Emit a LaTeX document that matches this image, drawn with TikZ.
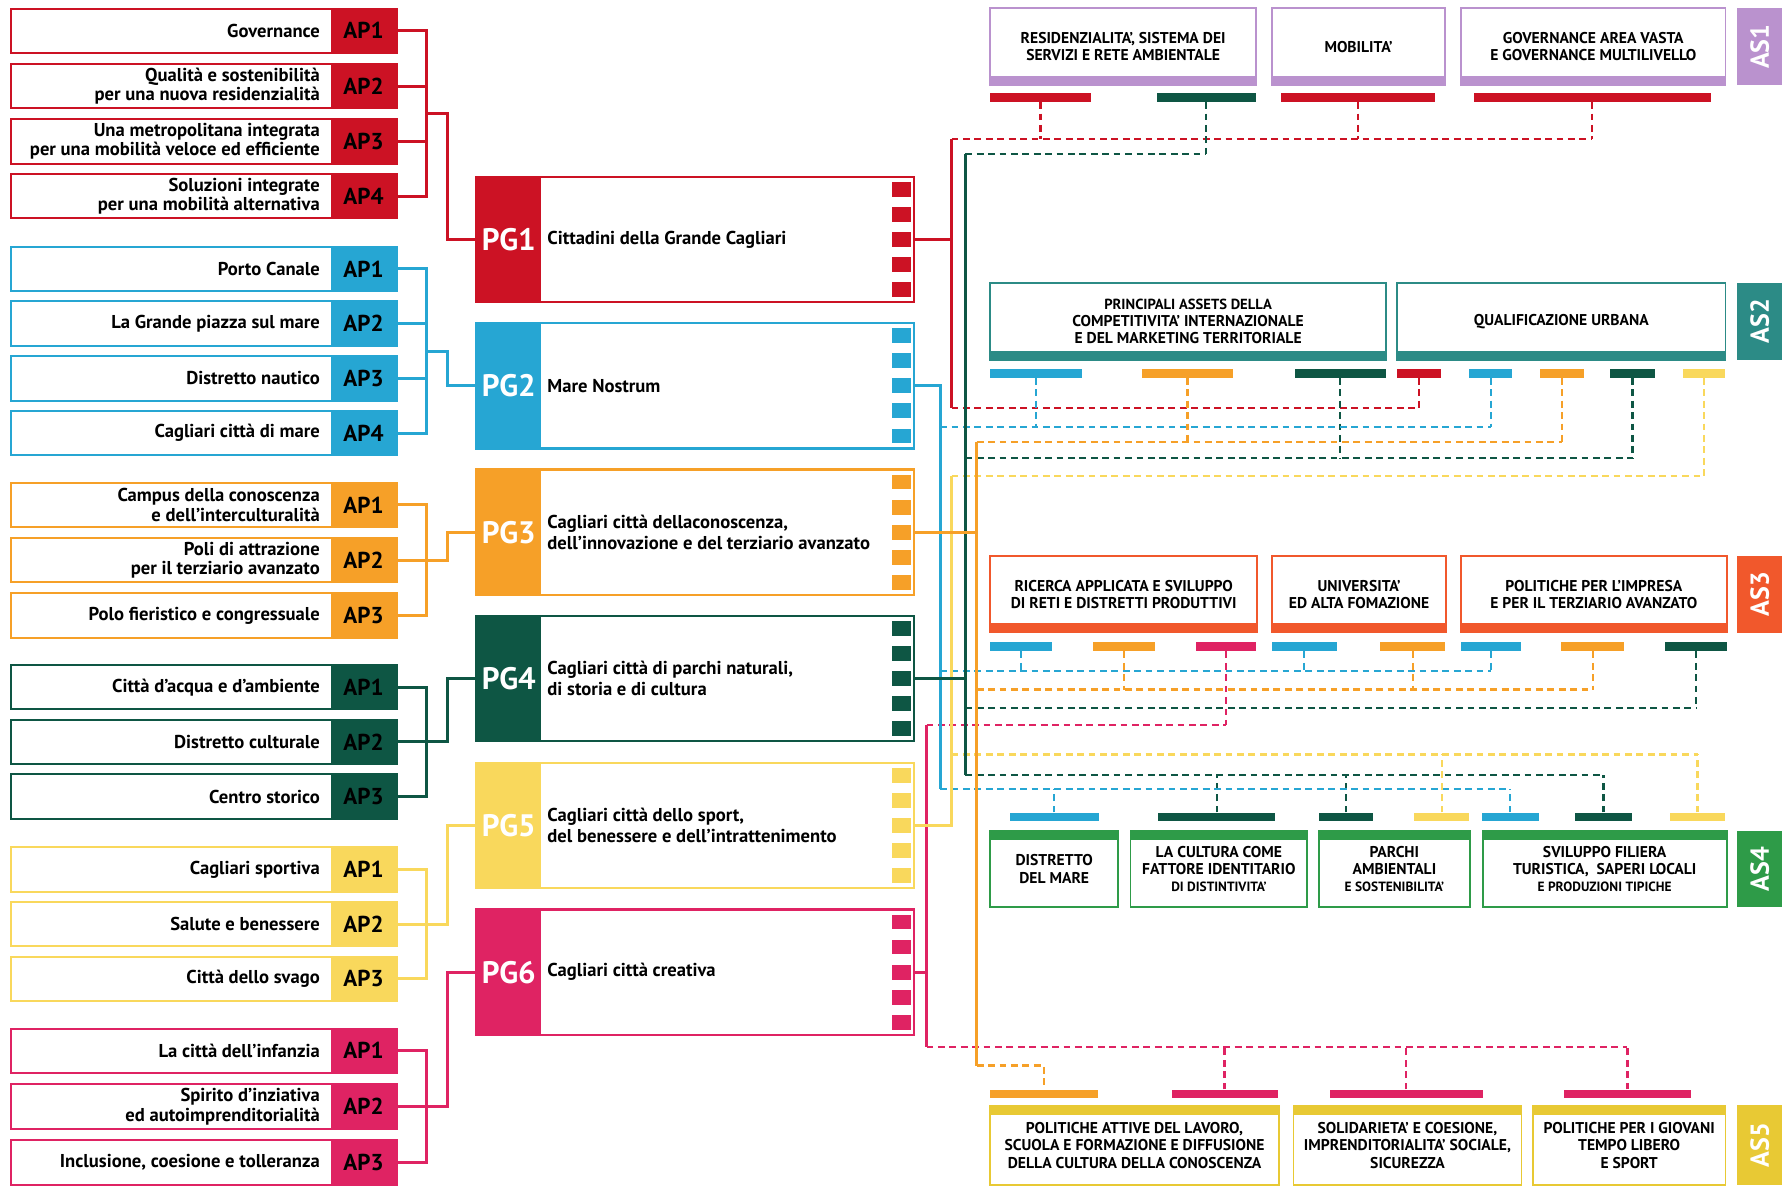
\documentclass[tikz,border=0pt]{standalone}
\usepackage{fontspec}
\setmainfont{PT Sans}
\usetikzlibrary{calc}
\definecolor{cRed}{RGB}{204,18,36}
\definecolor{cBlue}{RGB}{38,166,211}
\definecolor{cOrange}{RGB}{246,160,40}
\definecolor{cDkGreen}{RGB}{14,86,68}
\definecolor{cYellow}{RGB}{249,216,92}
\definecolor{cPink}{RGB}{223,35,99}
\definecolor{cASa}{RGB}{186,146,206}
\definecolor{cASb}{RGB}{44,139,134}
\definecolor{cASc}{RGB}{241,88,44}
\definecolor{cASd}{RGB}{46,155,72}
\definecolor{cASe}{RGB}{232,201,52}
\newcommand\APbox[5]{%
  \node[apframe=#3] (#1) at (179,#2) {};
  \node[aptag=#3] (#1t) at (319,#2) {#5};
  \node[aptext] (#1x) at (281,#2) {#4};}
\newcommand\PGbox[5]{%
  \node[pgframe=#3] (#1) at (610,#2) {};
  \node[pgtag=#3] (#1t) at (446.5,#2) {#4};
  \node[pgtext] (#1x) at (480,#2) {#5};
  \foreach \k [count=\i] in {-2,-1,0,1,2} \node[pgsq=#3] (#1s\i) at (791,{#2+22*\k}) {};}
\newcommand\bbar[5]{\node[bar=#5, minimum width={(#3-#2)*0.02cm}] (#1) at ({(#2+#3)/2},#4) {};}
\newcommand\ASbox[8]{%
  \draw[draw=#6, line width=0.9pt, fill=white] (#2,#4) rectangle (#3,#5);
  \if b#7\fill[#6] (#2,{#5-8}) rectangle (#3,#5);\else\fill[#6] (#2,#4) rectangle (#3,{#4+8});\fi
  \node[astext] (#1) at ({(#2+#3)/2},{(#4+#5)/2}) {#8};}
\newcommand\ASlab[5]{%
  \fill[#4] (1524,#2) rectangle (1564,#3);
  \node[aslabtext] (#1) at (1544,{(#2+#3)/2}) {#5};}
\newcommand\smallas{\fontsize{6.7}{8.6}\selectfont}
\begin{document}
\begin{tikzpicture}[x=0.02cm,y=-0.02cm,
  apframe/.style={draw=#1, line width=1pt, fill=white, minimum width=6.76cm, minimum height=0.78cm, inner sep=0pt},
  aptag/.style={fill=#1, minimum width=1.16cm, minimum height=0.78cm, inner sep=0pt, font=\fontsize{11.5}{13}\selectfont\bfseries},
  aptext/.style={anchor=east, align=right, inner sep=0pt, font=\fontsize{9.3}{9.6}\selectfont\bfseries},
  pgframe/.style={draw=#1, line width=1.1pt, fill=white, minimum width=7.68cm, minimum height=2.2cm, inner sep=0pt},
  pgtag/.style={fill=#1, text=white, minimum width=1.14cm, minimum height=2.2cm, inner sep=0pt, font=\fontsize{15.5}{17}\selectfont\bfseries},
  pgtext/.style={anchor=west, align=left, inner sep=0pt, font=\fontsize{9.3}{10.4}\selectfont\bfseries},
  pgsq/.style={fill=#1, minimum width=0.32cm, minimum height=0.26cm, inner sep=0pt},
  bus/.style={draw=#1, line width=1.5pt},
  dsh/.style={draw=#1, line width=1.1pt, dash pattern=on 3.4pt off 2.3pt},
  bar/.style={fill=#1, minimum height=0.15cm, inner sep=0pt},
  astext/.style={align=center, inner sep=0pt, font=\fontsize{7.8}{8.6}\selectfont\bfseries},
  aslabtext/.style={rotate=90, text=white, inner sep=0pt, font=\fontsize{13}{15}\selectfont\bfseries},
]
\path[use as bounding box, fill=white] (0,0) rectangle (1568,1043);

% ---------- AP boxes ----------
\APbox{r1}{27}{cRed}{Governance}{AP1}
\APbox{r2}{75.5}{cRed}{Qualità e sostenibilità\\per una nuova residenzialità}{AP2}
\APbox{r3}{124}{cRed}{Una metropolitana integrata\\per una mobilità veloce ed efficiente}{AP3}
\APbox{r4}{172}{cRed}{Soluzioni integrate\\per una mobilità alternativa}{AP4}
\APbox{b1}{236}{cBlue}{Porto Canale}{AP1}
\APbox{b2}{284}{cBlue}{La Grande piazza sul mare}{AP2}
\APbox{b3}{332}{cBlue}{Distretto nautico}{AP3}
\APbox{b4}{380}{cBlue}{Cagliari città di mare}{AP4}
\APbox{o1}{443}{cOrange}{Campus della conoscenza\\e dell’interculturalità}{AP1}
\APbox{o2}{491.5}{cOrange}{Poli di attrazione\\per il terziario avanzato}{AP2}
\APbox{o3}{540}{cOrange}{Polo fieristico e congressuale}{AP3}
\APbox{g1}{603}{cDkGreen}{Città d’acqua e d’ambiente}{AP1}
\APbox{g2}{651}{cDkGreen}{Distretto culturale}{AP2}
\APbox{g3}{699}{cDkGreen}{Centro storico}{AP3}
\APbox{y1}{763}{cYellow}{Cagliari sportiva}{AP1}
\APbox{y2}{811}{cYellow}{Salute e benessere}{AP2}
\APbox{y3}{859}{cYellow}{Città dello svago}{AP3}
\APbox{p1}{922}{cPink}{La città dell’infanzia}{AP1}
\APbox{p2}{971}{cPink}{Spirito d’inziativa\\ed autoimprenditorialità}{AP2}
\APbox{p3}{1020}{cPink}{Inclusione, coesione e tolleranza}{AP3}

% ---------- PG boxes ----------
\PGbox{pg1}{210}{cRed}{PG1}{Cittadini della Grande Cagliari}
\PGbox{pg2}{338.5}{cBlue}{PG2}{Mare Nostrum}
\PGbox{pg3}{467}{cOrange}{PG3}{Cagliari città dellaconoscenza,\\dell’innovazione e del terziario avanzato}
\PGbox{pg4}{595.5}{cDkGreen}{PG4}{Cagliari città di parchi naturali,\\di storia e di cultura}
\PGbox{pg5}{724.5}{cYellow}{PG5}{Cagliari città dello sport,\\del benessere e dell’intrattenimento}
\PGbox{pg6}{853}{cPink}{PG6}{Cagliari città creativa}

% ---------- brackets AP -> PG ----------
\draw[bus=cRed] (r1t.east) -- ++(26,0) |- (r4t.east);
\draw[bus=cRed] (r2t.east) -- ++(26,0);
\draw[bus=cRed] (r3t.east) -- ++(26,0);
\draw[bus=cRed] ($(r1t.east)!0.5!(r4t.east)+(26,0)$) -- ++(18,0) |- (pg1t.west);
\draw[bus=cBlue] (b1t.east) -- ++(26,0) |- (b4t.east);
\draw[bus=cBlue] (b2t.east) -- ++(26,0);
\draw[bus=cBlue] (b3t.east) -- ++(26,0);
\draw[bus=cBlue] ($(b1t.east)!0.5!(b4t.east)+(26,0)$) -- ++(18,0) |- (pg2t.west);
\draw[bus=cOrange] (o1t.east) -- ++(26,0) |- (o3t.east);
\draw[bus=cOrange] (o2t.east) -- ++(26,0);
\draw[bus=cOrange] ($(o1t.east)!0.5!(o3t.east)+(26,0)$) -- ++(18,0) |- (pg3t.west);
\draw[bus=cDkGreen] (g1t.east) -- ++(26,0) |- (g3t.east);
\draw[bus=cDkGreen] (g2t.east) -- ++(26,0);
\draw[bus=cDkGreen] ($(g1t.east)!0.5!(g3t.east)+(26,0)$) -- ++(18,0) |- (pg4t.west);
\draw[bus=cYellow] (y1t.east) -- ++(26,0) |- (y3t.east);
\draw[bus=cYellow] (y2t.east) -- ++(26,0);
\draw[bus=cYellow] ($(y1t.east)!0.5!(y3t.east)+(26,0)$) -- ++(18,0) |- (pg5t.west);
\draw[bus=cPink] (p1t.east) -- ++(26,0) |- (p3t.east);
\draw[bus=cPink] (p2t.east) -- ++(26,0);
\draw[bus=cPink] ($(p1t.east)!0.5!(p3t.east)+(26,0)$) -- ++(18,0) |- (pg6t.west);

% ---------- AS boxes ----------
\ASbox{a1x1}{869}{1102}{7}{75}{cASa}{b}{RESIDENZIALITA’, SISTEMA DEI\\SERVIZI E RETE AMBIENTALE}
\ASbox{a1x2}{1116}{1268}{7}{75}{cASa}{b}{MOBILITA’}
\ASbox{a1x3}{1282}{1514}{7}{75}{cASa}{b}{GOVERNANCE AREA VASTA\\E GOVERNANCE MULTILIVELLO}
\ASlab{as1}{7}{75}{cASa}{AS1}
\ASbox{a2x1}{869}{1216}{248}{316}{cASb}{b}{{\fontsize{7.3}{8.6}\selectfont PRINCIPALI ASSETS DELLA}\\COMPETITIVITA’ INTERNAZIONALE\\E DEL MARKETING TERRITORIALE}
\ASbox{a2x2}{1226}{1514}{248}{316}{cASb}{b}{QUALIFICAZIONE URBANA}
\ASlab{as2}{248}{316}{cASb}{AS2}
\ASbox{a3x1}{869}{1103}{488}{555}{cASc}{b}{RICERCA APPLICATA E SVILUPPO\\DI RETI E DISTRETTI PRODUTTIVI}
\ASbox{a3x2}{1116}{1269}{488}{555}{cASc}{b}{UNIVERSITA’\\ED ALTA FOMAZIONE}
\ASbox{a3x3}{1282}{1515}{488}{555}{cASc}{b}{POLITICHE PER L’IMPRESA\\E PER IL TERZIARIO AVANZATO}
\ASlab{as3}{488}{555}{cASc}{AS3}
\ASbox{a4x1}{869}{981}{729}{796}{cASd}{t}{DISTRETTO\\DEL MARE}
\ASbox{a4x2}{992}{1147}{729}{796}{cASd}{t}{LA CULTURA COME\\FATTORE IDENTITARIO\\{\smallas DI DISTINTIVITA’}}
\ASbox{a4x3}{1157}{1290}{729}{796}{cASd}{t}{PARCHI\\AMBIENTALI\\{\smallas E SOSTENIBILITA’}}
\ASbox{a4x4}{1301}{1515}{729}{796}{cASd}{t}{SVILUPPO FILIERA\\TURISTICA,\ \ SAPERI LOCALI\\{\smallas E PRODUZIONI TIPICHE}}
\ASlab{as4}{729}{796}{cASd}{AS4}
\ASbox{a5x1}{869}{1122}{970}{1040}{cASe}{t}{POLITICHE ATTIVE DEL LAVORO,\\SCUOLA E FORMAZIONE E DIFFUSIONE\\DELLA CULTURA DELLA CONOSCENZA}
\ASbox{a5x2}{1135}{1335}{970}{1040}{cASe}{t}{SOLIDARIETA’ E COESIONE,\\IMPRENDITORIALITA’ SOCIALE,\\SICUREZZA}
\ASbox{a5x3}{1345}{1514}{970}{1040}{cASe}{t}{POLITICHE PER I GIOVANI\\TEMPO LIBERO\\E SPORT}
\ASlab{as5}{970}{1040}{cASe}{AS5}

% ---------- bars ----------
\bbar{a1b1}{869}{957}{85.5}{cRed}
\bbar{a1b2}{1015}{1102}{85.5}{cDkGreen}
\bbar{a1b3}{1124}{1259}{85.5}{cRed}
\bbar{a1b4}{1293}{1501}{85.5}{cRed}
\bbar{a2b1}{869}{949}{327.5}{cBlue}
\bbar{a2b2}{1002}{1082}{327.5}{cOrange}
\bbar{a2b3}{1136}{1216}{327.5}{cDkGreen}
\bbar{a2b4}{1226}{1264}{327.5}{cRed}
\bbar{a2b5}{1289}{1327}{327.5}{cBlue}
\bbar{a2b6}{1351}{1390}{327.5}{cOrange}
\bbar{a2b7}{1413}{1452}{327.5}{cDkGreen}
\bbar{a2b8}{1477}{1514}{327.5}{cYellow}
\bbar{a3b1}{869}{923}{567.5}{cBlue}
\bbar{a3b2}{959}{1013}{567.5}{cOrange}
\bbar{a3b3}{1049}{1102}{567.5}{cPink}
\bbar{a3b4}{1116}{1173}{567.5}{cBlue}
\bbar{a3b5}{1211}{1268}{567.5}{cOrange}
\bbar{a3b6}{1282}{1335}{567.5}{cBlue}
\bbar{a3b7}{1370}{1425}{567.5}{cOrange}
\bbar{a3b8}{1461}{1515}{567.5}{cDkGreen}
\bbar{a4b1}{886}{964}{717}{cBlue}
\bbar{a4b2}{1016}{1119}{717}{cDkGreen}
\bbar{a4b3}{1157}{1205}{717}{cDkGreen}
\bbar{a4b4}{1241}{1289}{717}{cYellow}
\bbar{a4b5}{1300}{1350}{717}{cBlue}
\bbar{a4b6}{1382}{1432}{717}{cDkGreen}
\bbar{a4b7}{1465}{1514}{717}{cYellow}
\bbar{a5b1}{869}{963}{960}{cOrange}
\bbar{a5b2}{1028}{1121}{960}{cPink}
\bbar{a5b3}{1167}{1301}{960}{cPink}
\bbar{a5b4}{1372}{1484}{960}{cPink}

% ---------- bus coordinates ----------
\coordinate (rA) at (835,122);  \coordinate (rB) at (835,358);
\coordinate (gA) at (847,135);  \coordinate (gB) at (847,402);
\coordinate (gC) at (847,621);  \coordinate (gD) at (847,680);
\coordinate (bA) at (825,375);  \coordinate (bB) at (825,589);  \coordinate (bC) at (825,692);
\coordinate (oA) at (857,388);  \coordinate (oB) at (857,605);  \coordinate (oC) at (857,935);
\coordinate (yA) at (835,418);  \coordinate (yB) at (835,662);
\coordinate (pA) at (813,636);  \coordinate (pB) at (813,919);

% ---------- dashed links ----------
\draw[dsh=cRed] (rA) -- (rA -| a1b4.south);
\foreach \n in {a1b1,a1b3,a1b4} \draw[dsh=cRed] (\n.south) -- (\n.south |- rA);
\draw[dsh=cRed] (rB) -- (rB -| a2b4.south);
\draw[dsh=cRed] (a2b4.south) -- (a2b4.south |- rB);
\draw[dsh=cDkGreen] (gA) -- (gA -| a1b2.south);
\draw[dsh=cDkGreen] (a1b2.south) -- (a1b2.south |- gA);
\draw[dsh=cDkGreen] (gB) -- (gB -| a2b7.south);
\foreach \n in {a2b3,a2b7} \draw[dsh=cDkGreen] (\n.south) -- (\n.south |- gB);
\draw[dsh=cDkGreen] (gC) -- (gC -| a3b8.south);
\draw[dsh=cDkGreen] (a3b8.south) -- (a3b8.south |- gC);
\draw[dsh=cDkGreen] (gD) -- (gD -| a4b6.north);
\foreach \n in {a4b2,a4b3,a4b6} \draw[dsh=cDkGreen] (\n.north) -- (\n.north |- gD);
\draw[dsh=cBlue] (bA) -- (bA -| a2b5.south);
\foreach \n in {a2b1,a2b5} \draw[dsh=cBlue] (\n.south) -- (\n.south |- bA);
\draw[dsh=cBlue] (bB) -- (bB -| a3b6.south);
\foreach \n in {a3b1,a3b4,a3b6} \draw[dsh=cBlue] (\n.south) -- (\n.south |- bB);
\draw[dsh=cBlue] (bC) -- (bC -| a4b5.north);
\foreach \n in {a4b1,a4b5} \draw[dsh=cBlue] (\n.north) -- (\n.north |- bC);
\draw[dsh=cOrange] (oA) -- (oA -| a2b6.south);
\foreach \n in {a2b2,a2b6} \draw[dsh=cOrange] (\n.south) -- (\n.south |- oA);
\draw[dsh=cOrange] (oB) -- (oB -| a3b7.south);
\foreach \n in {a3b2,a3b5,a3b7} \draw[dsh=cOrange] (\n.south) -- (\n.south |- oB);
\draw[dsh=cOrange] (oC) -| (a5b1.north);
\draw[dsh=cYellow] (yA) -- (yA -| a2b8.south);
\draw[dsh=cYellow] (a2b8.south) -- (a2b8.south |- yA);
\draw[dsh=cYellow] (yB) -- (yB -| a4b7.north);
\foreach \n in {a4b4,a4b7} \draw[dsh=cYellow] (\n.north) -- (\n.north |- yB);
\draw[dsh=cPink] (pA) -- (pA -| a3b3.south);
\draw[dsh=cPink] (a3b3.south) -- (a3b3.south |- pA);
\draw[dsh=cPink] (pB) -- (pB -| a5b4.north);
\foreach \n in {a5b2,a5b3,a5b4} \draw[dsh=cPink] (\n.north) -- (\n.north |- pB);

% ---------- solid buses ----------
\draw[bus=cPink] (pg6.east) -- (pg6.east -| pA);
\draw[bus=cPink] (pA) -- (pB);
\draw[bus=cBlue] (pg2.east) -| (bC);
\draw[bus=cYellow] (pg5.east) -| (yA);
\draw[bus=cRed] (pg1.east) -- (pg1.east -| rA);
\draw[bus=cRed] (rA) -- (rB);
\draw[bus=cDkGreen] (pg4.east) -- (pg4.east -| gA);
\draw[bus=cDkGreen] (gA) -- (gD);
\draw[bus=cOrange] (pg3.east) -- (pg3.east -| oA);
\draw[bus=cOrange] (oA) -- (oC);
\end{tikzpicture}
\end{document}
